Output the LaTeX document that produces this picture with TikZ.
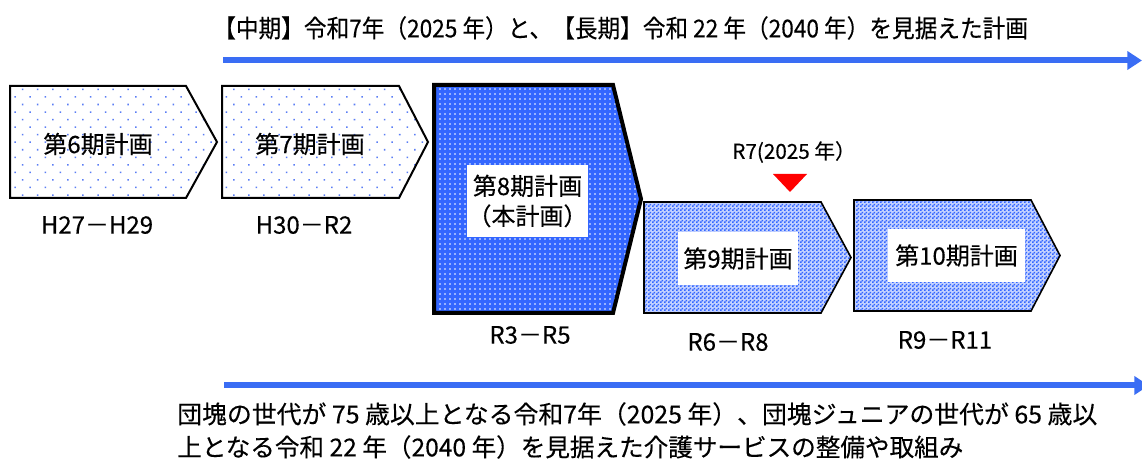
\documentclass[tikz,border=0pt]{standalone}
\usepackage{fontspec}
\setmainfont{Noto Sans CJK JP}[FakeBold=0.3]
\usetikzlibrary{patterns,patterns.meta,arrows.meta}
\definecolor{pblue}{HTML}{3366FF}
\definecolor{dotblue}{HTML}{5A7DF5}
\definecolor{aroblue}{HTML}{3A6DF4}
\definecolor{checkbg}{HTML}{C4D2FF}
\pgfdeclarepatternformonly{finecheck}{\pgfpointorigin}{\pgfqpoint{3pt}{3pt}}{\pgfqpoint{3pt}{3pt}}{%
  \pgfpathrectangle{\pgfpointorigin}{\pgfqpoint{1.5pt}{1.5pt}}%
  \pgfpathrectangle{\pgfqpoint{1.5pt}{1.5pt}}{\pgfqpoint{1.5pt}{1.5pt}}%
  \pgfusepath{fill}}
\begin{document}
\begin{tikzpicture}[x=0.75pt,y=-0.75pt,
  lightbox/.style={draw=black,line width=1.5pt,preaction={fill=white},
    pattern={Dots[angle=45,distance=8pt,radius=0.8pt]},pattern color=dotblue},
  mainbox/.style={draw=black,line width=3pt,preaction={fill=pblue},
    pattern={Dots[distance=3.75pt,radius=0.7pt]},pattern color=white},
  checkbox/.style={draw=black,line width=1.2pt,preaction={fill=checkbg},
    pattern=finecheck,pattern color=pblue},
  boxtxt/.style={inner sep=0pt,font=\fontsize{18}{22.5}\selectfont,align=center},
  whitebox/.style={boxtxt,fill=white},
  period/.style={inner sep=0pt,font=\fontsize{18}{20}\selectfont},
  note/.style={inner sep=0pt,anchor=west,font=\fontsize{18.5}{20}\selectfont},
  timeline/.style={draw=aroblue,line width=4.5pt,-{Triangle[length=11pt,width=13.5pt]}},
  marker/.style={fill=red,draw=none}]
\useasboundingbox (0,0) rectangle (1142,459);

% title
\node[note,font=\fontsize{18.5}{20}\selectfont] (title) at (213,28) {\resizebox{611pt}{\height}{【中期】令和7年（2025 年）と、【長期】令和 22 年（2040 年）を見据えた計画}};

% top timeline
\coordinate (ts) at (223,60.5);
\coordinate (te) at (1142,60.5);
\draw[timeline] (ts) -- (te);

% plan boxes
\path[lightbox] (10,86) -- (186,86) -- (217,142) -- (186,198) -- (10,198) -- cycle;
\path[lightbox] (222,86) -- (399,86) -- (428,142) -- (399,198) -- (222,198) -- cycle;
\path[mainbox] (434,85) -- (613,85) -- (641,199) -- (613,313) -- (434,313) -- cycle;
\path[checkbox] (644,202) -- (821,202) -- (851,257.5) -- (821,313) -- (644,313) -- cycle;
\path[checkbox] (854,200) -- (1031,200) -- (1060,255.5) -- (1031,311) -- (854,311) -- cycle;

% box texts
\node[boxtxt] (t6) at (98,144) {第6期計画};
\node[boxtxt] (t7) at (310,144) {第7期計画};
\node[whitebox,minimum width=90.75pt,minimum height=54pt] (t8) at (527.5,201) {第8期計画\\（本計画）};
\node[whitebox,minimum width=90pt,minimum height=39.75pt] (t9) at (738,258.5) {第9期計画};
\node[whitebox,minimum width=102.75pt,minimum height=39.75pt] (t10) at (956.5,255.5) {第10期計画};

% periods
\node[period] (p6) at (97,225) {H27－H29};
\node[period] (p7) at (304,225) {H30－R2};
\node[period] (p8) at (530,335) {R3－R5};
\node[period] (p9) at (728,342) {R6－R8};
\node[period] (p10) at (945,340) {R9－R11};

% R7 marker
\node[inner sep=0pt,font=\fontsize{15.5}{17}\selectfont] (r7) at (794,152) {R7(2025 年）};
\path[marker] (773,174) -- (807,174) -- (790,192) -- cycle;

% bottom timeline
\coordinate (bs) at (224,385.5);
\coordinate (be) at (1149,385.5);
\draw[timeline] (bs) -- (be);

% notes
\node[note] (n1) at (177,414) {\resizebox{690pt}{\height}{団塊の世代が 75 歳以上となる令和7年（2025 年）、団塊ジュニアの世代が 65 歳以}};
\node[note] (n2) at (177,447) {\resizebox{589.5pt}{\height}{上となる令和 22 年（2040 年）を見据えた介護サービスの整備や取組み}};
\end{tikzpicture}
\end{document}
